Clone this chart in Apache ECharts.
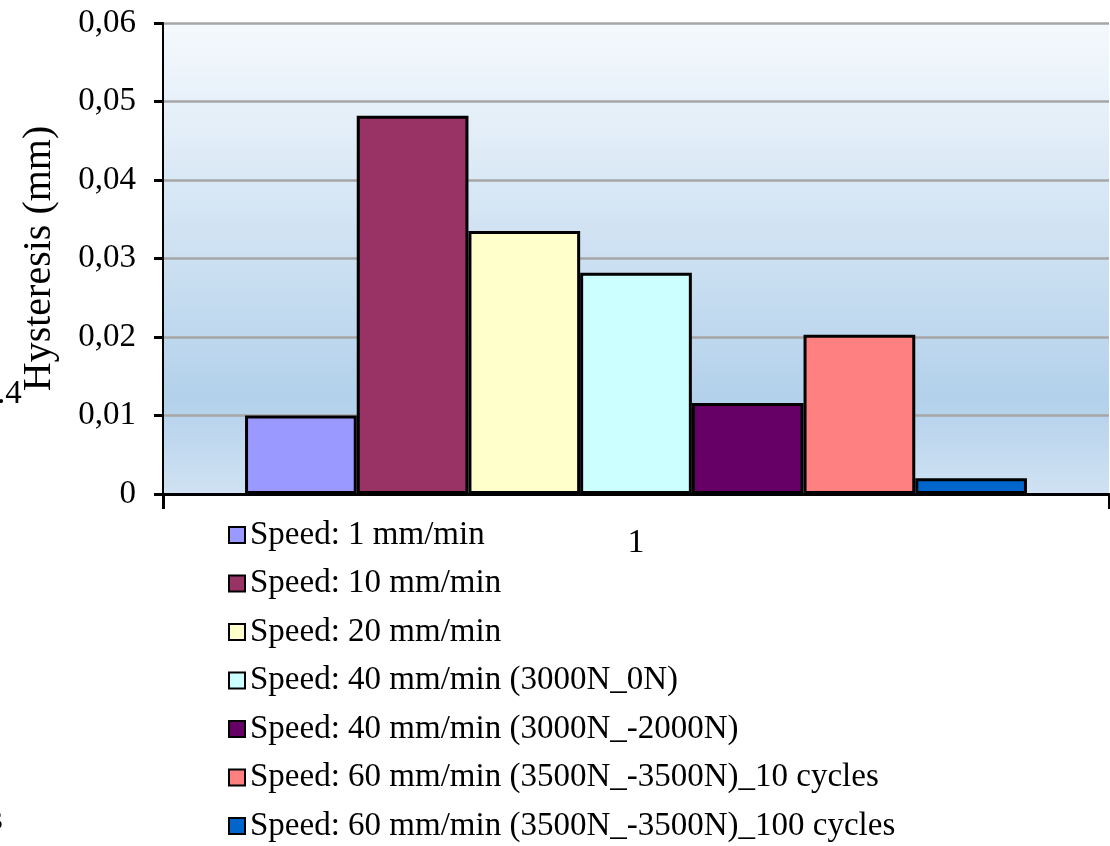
<!DOCTYPE html>
<html>
<head>
<meta charset="utf-8">
<style>
  html, body { margin: 0; padding: 0; background: #ffffff; }
  #chart { width: 1110px; height: 846px; }
</style>
<script src="https://cdn.jsdelivr.net/npm/echarts@6/dist/echarts.min.js"></script>
</head>
<body>
<div id="chart"></div>
<script>
const categories = ['1'];
const seriesNames = [
  'Speed: 1 mm/min',
  'Speed: 10 mm/min',
  'Speed: 20 mm/min',
  'Speed: 40 mm/min (3000N_0N)',
  'Speed: 40 mm/min (3000N_-2000N)',
  'Speed: 60 mm/min (3500N_-3500N)_10 cycles',
  'Speed: 60 mm/min (3500N_-3500N)_100 cycles'
];
const values = [0.0100, 0.0482, 0.0335, 0.0282, 0.0116, 0.0203, 0.0020];
const colors = ['#9999ff', '#993366', '#ffffcc', '#ccffff', '#660066', '#ff8080', '#0066cc'];
const yTicks = [0, 0.01, 0.02, 0.03, 0.04, 0.05, 0.06];
const yAxisTitle = 'Hysteresis (mm)';

const FONT = '"Liberation Serif", "Times New Roman", serif';

const chart = echarts.init(document.getElementById('chart'), null, { renderer: 'canvas' });

const series = seriesNames.map((name, i) => ({
  name: name,
  type: 'bar',
  data: [values[i]],
  barWidth: 111.7,
  barGap: '0%',
  itemStyle: { color: colors[i], borderColor: '#000000', borderWidth: 3 },
  emphasis: { disabled: true }
}));

chart.setOption({
  animation: false,
  backgroundColor: '#ffffff',
  color: colors,
  grid: {
    left: 163, right: 1, top: 23, bottom: 352,
    show: true,
    borderWidth: 0,
    backgroundColor: new echarts.graphic.LinearGradient(0, 0, 0, 1, [
      { offset: 0, color: '#f5f9fd' },
      { offset: 0.8, color: '#b3d1eb' },
      { offset: 1, color: '#d0e2f3' }
    ])
  },
  legend: {
    orient: 'vertical',
    left: 228,
    top: 518,
    width: 800,
    height: 400,
    padding: 0,
    itemWidth: 16,
    itemHeight: 16,
    itemGap: 14.5,
    icon: 'rect',
    itemStyle: { borderColor: '#000000', borderWidth: 2 },
    textStyle: { fontFamily: FONT, fontSize: 33, color: '#000000', lineHeight: 34 },
    data: seriesNames
  },
  xAxis: {
    type: 'category',
    data: categories,
    axisLine: { show: true, lineStyle: { color: '#000000', width: 3 } },
    axisTick: { show: true, alignWithLabel: false, length: 15, lineStyle: { color: '#000000', width: 3 } },
    axisLabel: { fontFamily: FONT, fontSize: 34, color: '#000000', margin: 32 },
    splitLine: { show: false }
  },
  yAxis: {
    type: 'value',
    min: yTicks[0],
    max: yTicks[yTicks.length - 1],
    interval: 0.01,
    name: yAxisTitle,
    nameLocation: 'middle',
    nameRotate: 90,
    nameGap: 104,
    nameTextStyle: { fontFamily: FONT, fontSize: 40, color: '#000000' },
    axisLine: { show: true, lineStyle: { color: '#000000', width: 2 } },
    axisTick: { show: true, inside: false, length: 9, lineStyle: { color: '#000000', width: 3 } },
    axisLabel: {
      fontFamily: FONT, fontSize: 33, color: '#000000', margin: 27,
      formatter: v => (Math.abs(v) < 1e-12 ? '0' : v.toFixed(2).replace('.', ','))
    },
    splitLine: { show: true, lineStyle: { color: '#a6a6a6', width: 2.5 } }
  },
  graphic: [
    { type: 'text', left: -3, top: 378, style: { text: '.4', font: '33px ' + FONT, fill: '#000000' }, silent: true },
    { type: 'text', left: -10, top: 804, style: { text: 's', font: '33px ' + FONT, fill: '#000000' }, silent: true }
  ],
  series: series
});
</script>
</body>
</html>
